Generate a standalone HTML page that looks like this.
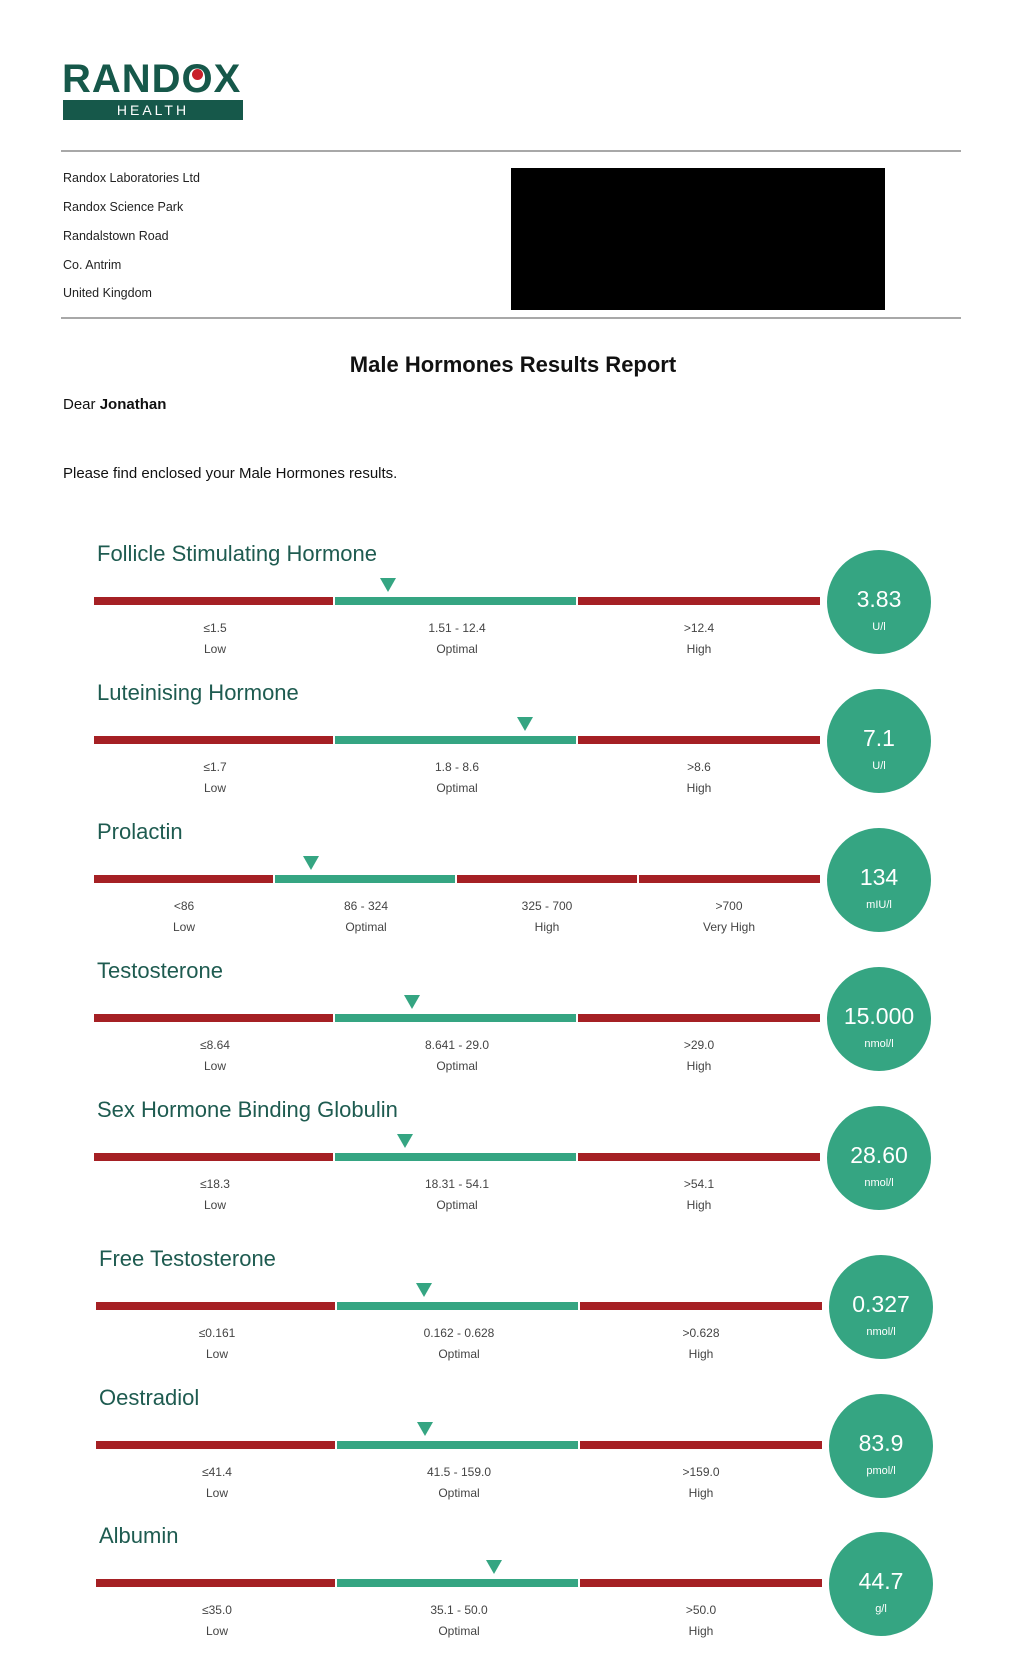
<!DOCTYPE html>
<html><head><meta charset="utf-8">
<style>
body{margin:0;background:#fff;}
#p{position:relative;width:1024px;height:1663px;overflow:hidden;background:#fff;font-family:"Liberation Sans",sans-serif;}
.a{position:absolute;}
.addr{position:absolute;left:63px;font-size:12.5px;color:#222;line-height:16px;}
.hr{position:absolute;left:61px;width:900px;height:2px;background:#a8a8a8;}
.s{position:absolute;left:0;width:1024px;height:120px;}
.h{position:absolute;left:97px;top:-16px;font-size:22px;color:#1e5b50;line-height:28px;white-space:nowrap;}
.b{position:absolute;top:41px;height:8px;}
.r{background:#a52024;}
.g{background:#35a582;}
.t{position:absolute;top:22px;width:0;height:0;border-left:8px solid transparent;border-right:8px solid transparent;border-top:14px solid #35a582;}
.l{position:absolute;width:140px;text-align:center;font-size:12px;color:#444;line-height:16px;}
.c{position:absolute;left:827px;top:-6px;width:104px;height:104px;border-radius:50%;background:#35a582;color:#fff;text-align:center;}
.v{position:absolute;left:0;width:104px;top:35px;font-size:23px;line-height:28px;}
.u{position:absolute;left:0;width:104px;top:70px;font-size:11px;line-height:14px;}
</style></head><body><div id="p">

<div class="a" style="left:62px;top:58px;font-size:40px;font-weight:bold;color:#16584a;letter-spacing:1px;line-height:42px;">RAND<span style="position:relative;">O<span style="position:absolute;left:10px;top:12px;width:11px;height:11px;border-radius:50%;background:#c8202a;"></span></span>X</div>
<div class="a" style="left:63px;top:100px;width:180px;height:20px;background:#16584a;color:#fff;font-size:14px;letter-spacing:3px;text-align:center;line-height:20px;">HEALTH</div>

<div class="hr" style="top:150px;"></div>
<div class="addr" style="top:170px;">Randox Laboratories Ltd</div>
<div class="addr" style="top:199px;">Randox Science Park</div>
<div class="addr" style="top:228px;">Randalstown Road</div>
<div class="addr" style="top:257px;">Co. Antrim</div>
<div class="addr" style="top:285px;">United Kingdom</div>
<div class="a" style="left:511px;top:168px;width:374px;height:142px;background:#000;"></div>
<div class="hr" style="top:317px;"></div>

<div class="a" style="left:0;width:1026px;top:352px;text-align:center;font-size:22px;font-weight:bold;color:#111;">Male Hormones Results Report</div>
<div class="a" style="left:63px;top:396px;font-size:15px;color:#111;">Dear <b>Jonathan</b></div>
<div class="a" style="left:63px;top:465px;font-size:15px;color:#111;">Please find enclosed your Male Hormones results.</div>

<!-- FSH -->
<div class="s" style="top:556px;">
<div class="h">Follicle Stimulating Hormone</div>
<div class="b r" style="left:94px;width:239px;"></div><div class="b g" style="left:335px;width:241px;"></div><div class="b r" style="left:578px;width:242px;"></div>
<div class="t" style="left:380px;"></div>
<div class="l" style="left:145px;top:64px;">≤1.5</div><div class="l" style="left:145px;top:85px;">Low</div>
<div class="l" style="left:387px;top:64px;">1.51 - 12.4</div><div class="l" style="left:387px;top:85px;">Optimal</div>
<div class="l" style="left:629px;top:64px;">&gt;12.4</div><div class="l" style="left:629px;top:85px;">High</div>
<div class="c"><div class="v">3.83</div><div class="u">U/l</div></div>
</div>

<!-- LH -->
<div class="s" style="top:695px;">
<div class="h">Luteinising Hormone</div>
<div class="b r" style="left:94px;width:239px;"></div><div class="b g" style="left:335px;width:241px;"></div><div class="b r" style="left:578px;width:242px;"></div>
<div class="t" style="left:517px;"></div>
<div class="l" style="left:145px;top:64px;">≤1.7</div><div class="l" style="left:145px;top:85px;">Low</div>
<div class="l" style="left:387px;top:64px;">1.8 - 8.6</div><div class="l" style="left:387px;top:85px;">Optimal</div>
<div class="l" style="left:629px;top:64px;">&gt;8.6</div><div class="l" style="left:629px;top:85px;">High</div>
<div class="c"><div class="v">7.1</div><div class="u">U/l</div></div>
</div>

<!-- Prolactin -->
<div class="s" style="top:834px;">
<div class="h">Prolactin</div>
<div class="b r" style="left:94px;width:179px;"></div><div class="b g" style="left:275px;width:180px;"></div><div class="b r" style="left:457px;width:180px;"></div><div class="b r" style="left:639px;width:181px;"></div>
<div class="t" style="left:303px;"></div>
<div class="l" style="left:114px;top:64px;">&lt;86</div><div class="l" style="left:114px;top:85px;">Low</div>
<div class="l" style="left:296px;top:64px;">86 - 324</div><div class="l" style="left:296px;top:85px;">Optimal</div>
<div class="l" style="left:477px;top:64px;">325 - 700</div><div class="l" style="left:477px;top:85px;">High</div>
<div class="l" style="left:659px;top:64px;">&gt;700</div><div class="l" style="left:659px;top:85px;">Very High</div>
<div class="c"><div class="v">134</div><div class="u">mIU/l</div></div>
</div>

<!-- Testosterone -->
<div class="s" style="top:973px;">
<div class="h">Testosterone</div>
<div class="b r" style="left:94px;width:239px;"></div><div class="b g" style="left:335px;width:241px;"></div><div class="b r" style="left:578px;width:242px;"></div>
<div class="t" style="left:404px;"></div>
<div class="l" style="left:145px;top:64px;">≤8.64</div><div class="l" style="left:145px;top:85px;">Low</div>
<div class="l" style="left:387px;top:64px;">8.641 - 29.0</div><div class="l" style="left:387px;top:85px;">Optimal</div>
<div class="l" style="left:629px;top:64px;">&gt;29.0</div><div class="l" style="left:629px;top:85px;">High</div>
<div class="c"><div class="v">15.000</div><div class="u">nmol/l</div></div>
</div>

<!-- SHBG -->
<div class="s" style="top:1112px;">
<div class="h">Sex Hormone Binding Globulin</div>
<div class="b r" style="left:94px;width:239px;"></div><div class="b g" style="left:335px;width:241px;"></div><div class="b r" style="left:578px;width:242px;"></div>
<div class="t" style="left:397px;"></div>
<div class="l" style="left:145px;top:64px;">≤18.3</div><div class="l" style="left:145px;top:85px;">Low</div>
<div class="l" style="left:387px;top:64px;">18.31 - 54.1</div><div class="l" style="left:387px;top:85px;">Optimal</div>
<div class="l" style="left:629px;top:64px;">&gt;54.1</div><div class="l" style="left:629px;top:85px;">High</div>
<div class="c"><div class="v">28.60</div><div class="u">nmol/l</div></div>
</div>

<!-- Free T -->
<div class="s" style="top:1261px;left:2px;">
<div class="h">Free Testosterone</div>
<div class="b r" style="left:94px;width:239px;"></div><div class="b g" style="left:335px;width:241px;"></div><div class="b r" style="left:578px;width:242px;"></div>
<div class="t" style="left:414px;"></div>
<div class="l" style="left:145px;top:64px;">≤0.161</div><div class="l" style="left:145px;top:85px;">Low</div>
<div class="l" style="left:387px;top:64px;">0.162 - 0.628</div><div class="l" style="left:387px;top:85px;">Optimal</div>
<div class="l" style="left:629px;top:64px;">&gt;0.628</div><div class="l" style="left:629px;top:85px;">High</div>
<div class="c"><div class="v">0.327</div><div class="u">nmol/l</div></div>
</div>

<!-- Oestradiol -->
<div class="s" style="top:1400px;left:2px;">
<div class="h">Oestradiol</div>
<div class="b r" style="left:94px;width:239px;"></div><div class="b g" style="left:335px;width:241px;"></div><div class="b r" style="left:578px;width:242px;"></div>
<div class="t" style="left:415px;"></div>
<div class="l" style="left:145px;top:64px;">≤41.4</div><div class="l" style="left:145px;top:85px;">Low</div>
<div class="l" style="left:387px;top:64px;">41.5 - 159.0</div><div class="l" style="left:387px;top:85px;">Optimal</div>
<div class="l" style="left:629px;top:64px;">&gt;159.0</div><div class="l" style="left:629px;top:85px;">High</div>
<div class="c"><div class="v">83.9</div><div class="u">pmol/l</div></div>
</div>

<!-- Albumin -->
<div class="s" style="top:1538px;left:2px;">
<div class="h">Albumin</div>
<div class="b r" style="left:94px;width:239px;"></div><div class="b g" style="left:335px;width:241px;"></div><div class="b r" style="left:578px;width:242px;"></div>
<div class="t" style="left:484px;"></div>
<div class="l" style="left:145px;top:64px;">≤35.0</div><div class="l" style="left:145px;top:85px;">Low</div>
<div class="l" style="left:387px;top:64px;">35.1 - 50.0</div><div class="l" style="left:387px;top:85px;">Optimal</div>
<div class="l" style="left:629px;top:64px;">&gt;50.0</div><div class="l" style="left:629px;top:85px;">High</div>
<div class="c"><div class="v">44.7</div><div class="u">g/l</div></div>
</div>

</div></body></html>
